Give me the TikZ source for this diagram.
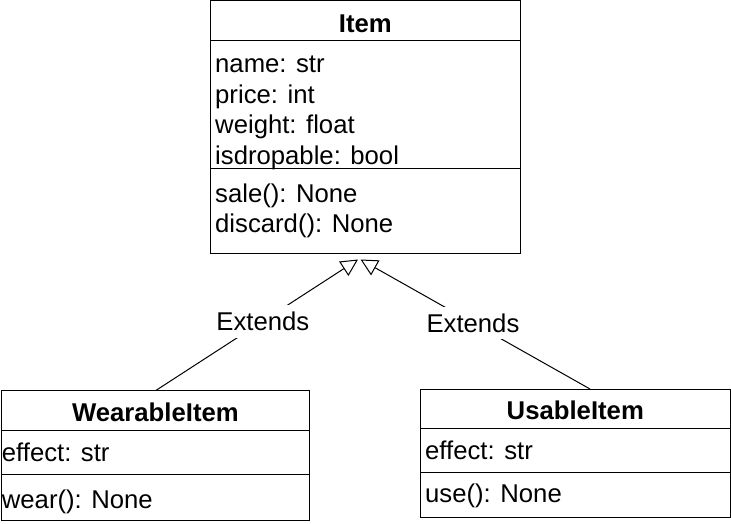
\documentclass[tikz,border=0pt]{standalone}
\usepackage{fontspec}
\setmainfont{Liberation Sans}
\usetikzlibrary{arrows.meta}
\begin{document}
\begin{tikzpicture}[x=1pt,y=-1pt,
  box/.style={draw=black, line width=1pt, inner sep=0pt, outer sep=0pt, anchor=north west},
  txt/.style={anchor=base west, inner sep=0pt, font=\fontsize{25.7}{30}\selectfont},
  ttl/.style={anchor=base, inner sep=0pt, font=\fontsize{25.7}{30}\selectfont\bfseries},
  sep/.style={line width=1pt},
  ext/.style={line width=1pt, -{Triangle[open, length=17pt, width=17pt]}},
  lbl/.style={fill=white, inner xsep=2pt, inner ysep=7pt, font=\fontsize{25.7}{30}\selectfont}]
\useasboundingbox (0,0) rectangle (731,524);

% Item
\node[box, minimum width=309.8pt, minimum height=252.8pt] (item) at (210.5,0.7) {};
\draw[sep] ([yshift=-40pt]item.north west) -- ([yshift=-40pt]item.north east);
\draw[sep] ([yshift=-168.3pt]item.north west) -- ([yshift=-168.3pt]item.north east);
\node[ttl] (itemT) at (365.4,32.3) {Item};
\node[txt] (itemA1) at (215,72.3) {name: str};
\node[txt] (itemA2) at (215,103.1) {price: int};
\node[txt] (itemA3) at (215,133.9) {weight: float};
\node[txt] (itemA4) at (215,164.7) {isdropable: bool};
\node[txt] (itemM1) at (215,202.3) {sale(): None};
\node[txt] (itemM2) at (215,232.3) {discard(): None};

% WearableItem
\node[box, minimum width=308.7pt, minimum height=129.3pt] (wear) at (1,390.7) {};
\draw[sep] ([yshift=-40pt]wear.north west) -- ([yshift=-40pt]wear.north east);
\draw[sep] ([yshift=-83.6pt]wear.north west) -- ([yshift=-83.6pt]wear.north east);
\node[ttl] (wearT) at (155.4,421) {WearableItem};
\node[txt] (wearA1) at (1.7,461.7) {effect: str};
\node[txt] (wearM1) at (1.7,508.3) {wear(): None};

% UsableItem
\node[box, minimum width=310pt, minimum height=128.7pt] (use) at (420.3,389) {};
\draw[sep] ([yshift=-39.3pt]use.north west) -- ([yshift=-39.3pt]use.north east);
\draw[sep] ([yshift=-83.3pt]use.north west) -- ([yshift=-83.3pt]use.north east);
\node[ttl] (useT) at (575.3,419) {UsableItem};
\node[txt] (useA1) at (425,459) {effect: str};
\node[txt] (useM1) at (425,502.3) {use(): None};

% connectors
\coordinate (tipL) at (358,259.5);
\coordinate (tipR) at (360.5,259.5);
\coordinate (wTop) at ([xshift=154.5pt]wear.north west);
\coordinate (uTop) at ([xshift=169.7pt]use.north west);
\draw[ext] (wTop) -- node[lbl, pos=0.53] (lblL) {Extends} (tipL);
\draw[ext] (uTop) -- node[lbl, pos=0.51] (lblR) {Extends} (tipR);
\end{tikzpicture}
\end{document}
